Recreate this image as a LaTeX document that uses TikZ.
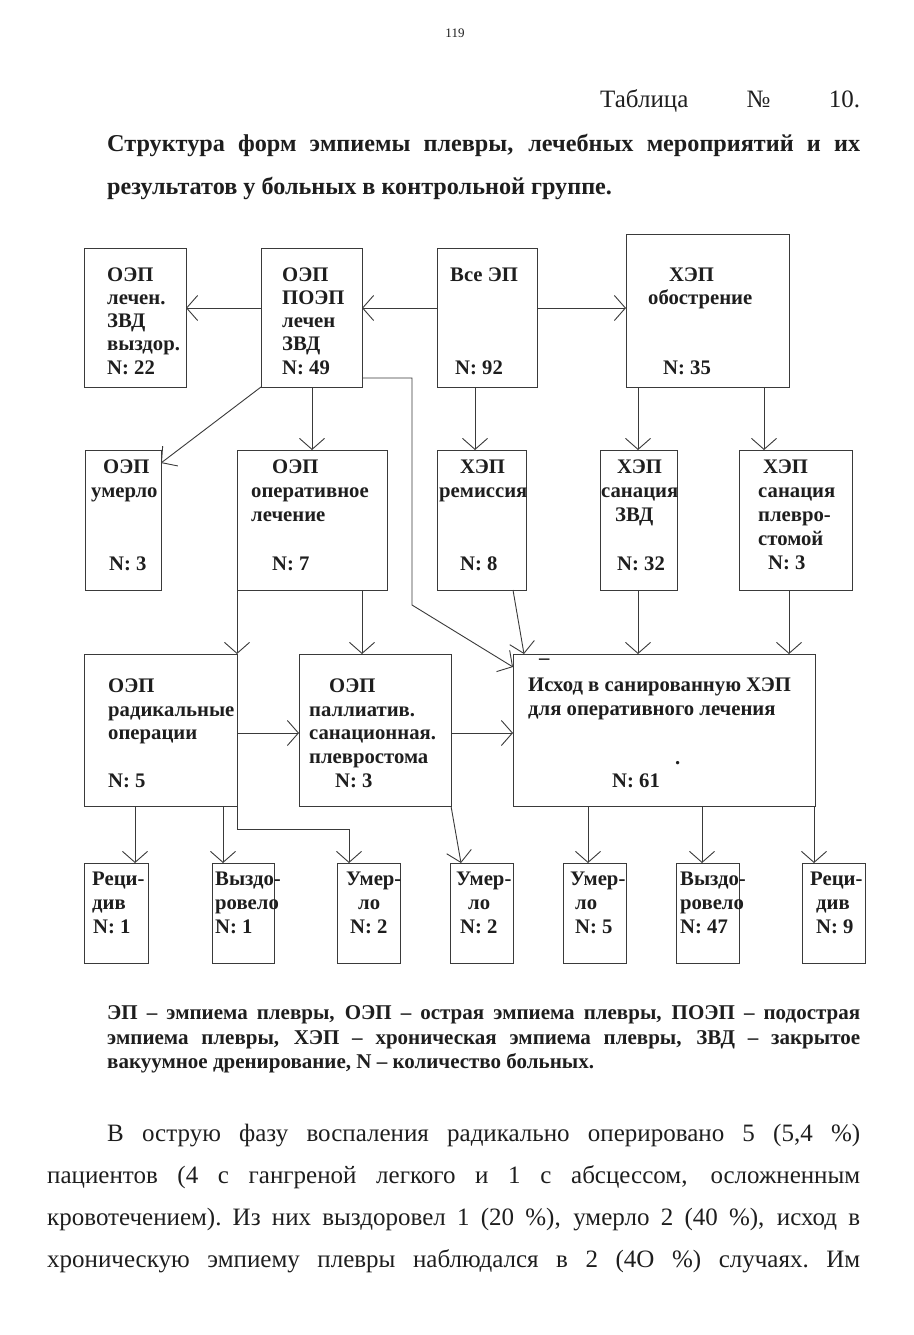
\documentclass[tikz,border=0pt]{standalone}
\usepackage{fontspec}
\setmainfont{Liberation Serif}
\usetikzlibrary{arrows.meta}
\newcommand\boxf{\bfseries\fontsize{20.7}{24}\selectfont}
\newcommand\bodyfnt{\fontsize{25}{30}\selectfont}
\newcommand\titlefnt{\bfseries\fontsize{24.2}{28}\selectfont}
\newcommand\legfnt{\bfseries\fontsize{21}{24}\selectfont}
\newcommand\jsp{\spaceskip=.25em plus 1fil\xspaceskip=.25em plus 1fil\relax}
\newcommand\mybox[5]{\node[bx, minimum width=#4pt, minimum height=#5pt] (#1) at (#2,#3) {};}
\newcommand\mytext[4]{\node[tx] (#1) at (#2,#3) {#4};}
\definecolor{txtc}{HTML}{1E1E1E}
\definecolor{linec}{HTML}{3A3A3A}
\tikzset{
  bx/.style={draw=linec, line width=1pt, inner sep=0pt, outer sep=0pt, anchor=north west},
  ar/.style={draw=linec, line width=0.9pt, -{Straight Barb[length=11pt,width=25pt]}},
  tx/.style={anchor=base west, inner sep=0pt, font=\boxf, text=txtc},
  pl/.style={anchor=base west, inner sep=0pt, text=txtc},
}
\begin{document}
\begin{tikzpicture}[x=1pt,y=-1pt]
\useasboundingbox[fill=white] (0,0) rectangle (913,1335);

% header
\node[anchor=base, inner sep=0pt, font=\fontsize{13}{15}\selectfont, text=txtc] (pg) at (455,38) {119};
\node[pl] (tab) at (600,108) {\bodyfnt\hbox to 260pt{\jsp Таблица № 10.}};
\node[pl] (t1) at (107,151) {\titlefnt\hbox to 753pt{\jsp Структура форм эмпиемы плевры, лечебных мероприятий и их}};
\node[pl] (t2) at (107,194) {\titlefnt результатов у больных в контрольной группе.};

% boxes
\mybox{A}{84}{248}{102}{139}
\mybox{B}{261}{248}{101}{139}
\mybox{C}{437}{248}{100}{139}
\mybox{D}{626}{234}{163}{153}
\mybox{E}{85}{450}{76}{140}
\mybox{F}{237}{450}{150}{140}
\mybox{G}{437}{450}{89}{140}
\mybox{H}{600}{450}{77}{140}
\mybox{I}{739}{450}{113}{140}
\mybox{J}{84}{654}{153}{152}
\mybox{K}{299}{654}{152}{152}
\mybox{L}{513}{654}{302}{152}
\mybox{M1}{84}{863}{64}{100}
\mybox{M2}{212}{863}{62}{100}
\mybox{M3}{337}{863}{63}{100}
\mybox{M4}{450}{863}{63}{100}
\mybox{M5}{563}{863}{63}{100}
\mybox{M6}{676}{863}{63}{100}
\mybox{M7}{802}{863}{63}{100}

% box texts
\mytext{a1}{107}{281}{ОЭП}
\mytext{a2}{107}{304}{лечен.}
\mytext{a3}{107}{327}{ЗВД}
\mytext{a4}{107}{350}{выздор.}
\mytext{a5}{107}{374}{N: 22}
\mytext{b1}{282}{281}{ОЭП}
\mytext{b2}{282}{304}{ПОЭП}
\mytext{b3}{282}{327}{лечен}
\mytext{b4}{282}{350}{ЗВД}
\mytext{b5}{282}{374}{N: 49}
\mytext{c1}{450}{281}{Все ЭП}
\mytext{c2}{455}{374}{N: 92}
\mytext{d1}{669}{281}{ХЭП}
\mytext{d2}{648}{304}{обострение}
\mytext{d3}{663}{374}{N: 35}
\mytext{e1}{103}{473}{ОЭП}
\mytext{e2}{91}{497}{умерло}
\mytext{e3}{109}{570}{N: 3}
\mytext{f1}{272}{473}{ОЭП}
\mytext{f2}{251}{497}{оперативное}
\mytext{f3}{251}{521}{лечение}
\mytext{f4}{272}{570}{N: 7}
\mytext{g1}{460}{473}{ХЭП}
\mytext{g2}{439}{497}{ремиссия}
\mytext{g3}{460}{570}{N: 8}
\mytext{h1}{617}{473}{ХЭП}
\mytext{h2}{601}{497}{санация}
\mytext{h3}{615}{521}{ЗВД}
\mytext{h4}{617}{570}{N: 32}
\mytext{i1}{763}{473}{ХЭП}
\mytext{i2}{758}{497}{санация}
\mytext{i3}{758}{521}{плевро-}
\mytext{i4}{758}{545}{стомой}
\mytext{i5}{768}{569}{N: 3}
\mytext{j1}{108}{692}{ОЭП}
\mytext{j2}{108}{716}{радикальные}
\mytext{j3}{108}{739}{операции}
\mytext{j4}{108}{787}{N: 5}
\mytext{k1}{329}{692}{ОЭП}
\mytext{k2}{309}{716}{паллиатив.}
\mytext{k3}{309}{739}{санационная.}
\mytext{k4}{309}{763}{плевростома}
\mytext{k5}{335}{787}{N: 3}
\mytext{l1}{528}{691}{Исход в санированную ХЭП}
\mytext{l2}{528}{715}{для оперативного лечения}
\mytext{l3}{612}{787}{N: 61}
\node[tx] (lmark) at (539,664) {–};
\node[tx] (ldot) at (675,764) {.};
\mytext{m11}{92}{885}{Реци-}
\mytext{m12}{92}{909}{див}
\mytext{m13}{93}{933}{N: 1}
\mytext{m21}{215}{885}{Выздо-}
\mytext{m22}{215}{909}{ровело}
\mytext{m23}{215}{933}{N: 1}
\mytext{m31}{346}{885}{Умер-}
\mytext{m32}{358}{909}{ло}
\mytext{m33}{350}{933}{N: 2}
\mytext{m41}{456}{885}{Умер-}
\mytext{m42}{468}{909}{ло}
\mytext{m43}{460}{933}{N: 2}
\mytext{m51}{570}{885}{Умер-}
\mytext{m52}{575}{909}{ло}
\mytext{m53}{575}{933}{N: 5}
\mytext{m61}{680}{885}{Выздо-}
\mytext{m62}{680}{909}{ровело}
\mytext{m63}{680}{933}{N: 47}
\mytext{m71}{810}{885}{Реци-}
\mytext{m72}{816}{909}{див}
\mytext{m73}{816}{933}{N: 9}

% connectors row 1
\draw[ar] (C.west |- 0,308) -- (B.east |- 0,308);
\draw[ar] (B.west |- 0,308) -- (A.east |- 0,308);
\draw[ar] (C.east |- 0,308) -- (D.west |- 0,308);
% to row 2
\draw[ar] (B.south west) -- (E.east |- 0,463);
\draw[ar] (B.south -| 312,0) -- (F.north -| 312,0);
\draw[ar] (C.south -| 475,0) -- (G.north -| 475,0);
\draw[ar] (D.south -| 638,0) -- (H.north -| 638,0);
\draw[ar] (D.south -| 764,0) -- (I.north -| 764,0);
\coordinate (bk1) at (412,378);
\coordinate (bk2) at (412,605);
\draw[ar] (B.east |- bk1) -- (bk1) -- (bk2) -- (L.west |- 0,667);
% to row 3
\draw[ar] (F.south west) -- (J.north east);
\draw[ar] (F.south -| 362,0) -- (K.north -| 362,0);
\draw[ar] (G.south -| 513,0) -- (L.north -| 524,0);
\draw[ar] (H.south -| 638,0) -- (L.north -| 638,0);
\draw[ar] (I.south -| 789,0) -- (L.north -| 789,0);
\draw[ar] (J.east |- 0,733) -- (K.west |- 0,733);
\draw[ar] (K.east |- 0,733) -- (L.west |- 0,733);
% to row 4
\draw[ar] (J.south -| 135,0) -- (M1.north -| 135,0);
\draw[ar] (J.south -| 223,0) -- (M2.north -| 223,0);
\draw[ar] (J.south east) -- ++(0,23) -| (M3.north -| 349,0);
\draw[ar] (K.south east) -- (M4.north -| 461,0);
\draw[ar] (L.south -| 588,0) -- (M5.north -| 588,0);
\draw[ar] (L.south -| 702,0) -- (M6.north -| 702,0);
\draw[ar] (L.south -| 814,0) -- (M7.north -| 814,0);

% legend
\node[pl] (lg1) at (107,1019) {\legfnt\hbox to 753pt{\jsp ЭП – эмпиема плевры, ОЭП – острая эмпиема плевры, ПОЭП – подострая}};
\node[pl] (lg2) at (107,1044) {\legfnt\hbox to 753pt{\jsp эмпиема плевры, ХЭП – хроническая эмпиема плевры, ЗВД – закрытое}};
\node[pl] (lg3) at (107,1068) {\legfnt вакуумное дренирование, N – количество больных.};

% body text
\node[pl] (p1) at (107,1141) {\bodyfnt\hbox to 753pt{\jsp В острую фазу воспаления радикально оперировано 5 (5,4 \%)}};
\node[pl] (p2) at (47,1183) {\bodyfnt\hbox to 813pt{\jsp пациентов (4 с гангреной легкого и 1 с абсцессом, осложненным}};
\node[pl] (p3) at (47,1225) {\bodyfnt\hbox to 813pt{\jsp кровотечением). Из них выздоровел 1 (20 \%), умерло 2 (40 \%), исход в}};
\node[pl] (p4) at (47,1267) {\bodyfnt\hbox to 813pt{\jsp хроническую эмпиему плевры наблюдался в 2 (4О \%) случаях. Им}};
\end{tikzpicture}
\end{document}
